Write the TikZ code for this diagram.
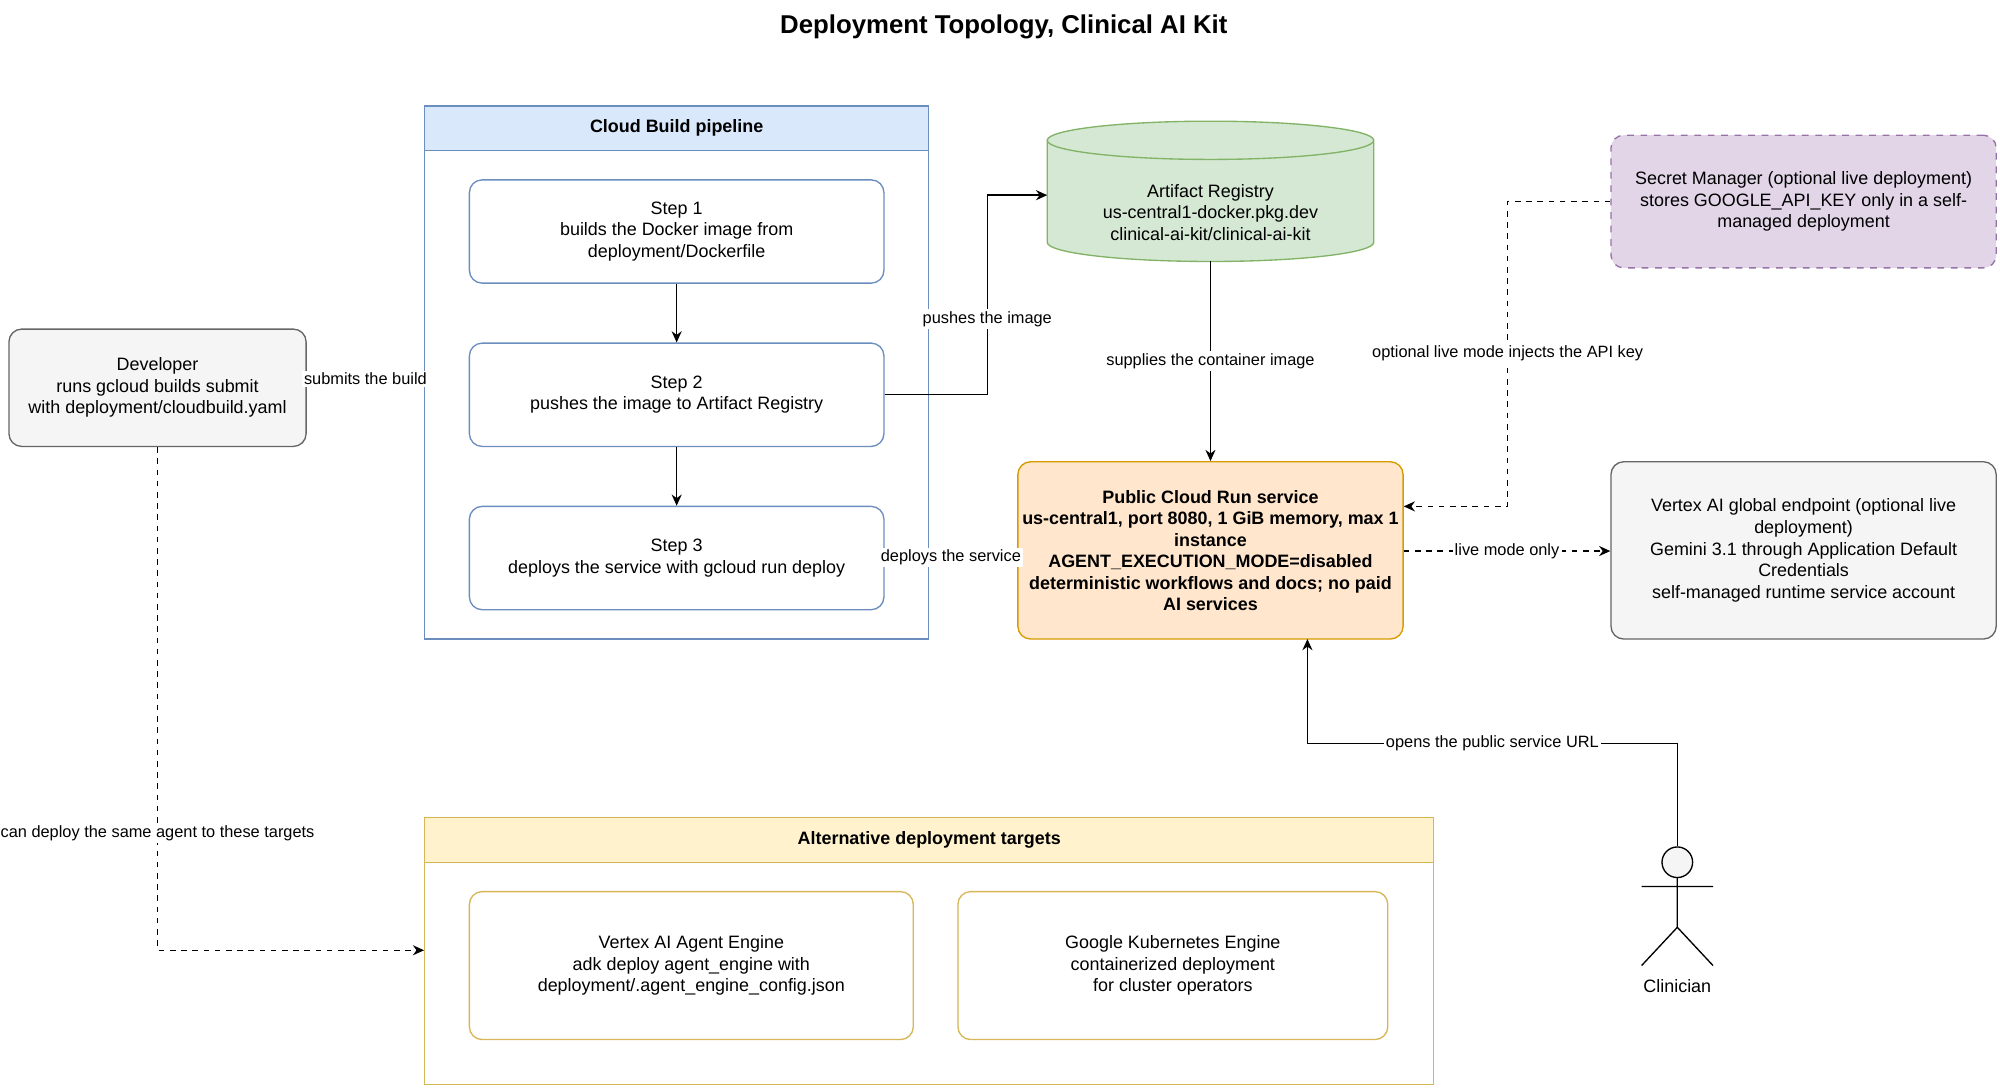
\documentclass[tikz,border=0pt]{standalone}
\usepackage{fontspec}
\setmainfont{Liberation Sans}
\usetikzlibrary{arrows.meta,positioning}
\definecolor{cbfill}{HTML}{DAE8FC}\definecolor{cbline}{HTML}{6C8EBF}
\definecolor{gfill}{HTML}{D5E8D4}\definecolor{gline}{HTML}{82B366}
\definecolor{ofill}{HTML}{FFE6CC}\definecolor{oline}{HTML}{D79B00}
\definecolor{pfill}{HTML}{E1D5E7}\definecolor{pline}{HTML}{9673A6}
\definecolor{yfill}{HTML}{FFF2CC}\definecolor{yline}{HTML}{D6B656}
\definecolor{grfill}{HTML}{F5F5F5}\definecolor{grline}{HTML}{666666}
\tikzset{
 txt/.style={font=\fontsize{8}{9.6}\selectfont,align=center},
 box/.style={txt,draw,rounded corners=0.2cm,line width=0.6pt,inner sep=1pt},
 cont/.style={draw,line width=0.6pt,inner sep=0},
 hdr/.style={draw,line width=0.6pt,font=\fontsize{8}{9.6}\selectfont\bfseries,inner sep=0},
 lbl/.style={font=\fontsize{7.3}{9}\selectfont,fill=white,inner sep=1pt},
 arr/.style={-{Stealth[length=5pt,width=4.5pt]},line width=0.6pt},
 dsh/.style={arr,dashed,dash pattern=on 2.5pt off 2.5pt}
}
\begin{document}
\begin{tikzpicture}
\useasboundingbox (0,0) rectangle (31.36,-17.06);
\node[font=\fontsize{11.5}{13}\selectfont\bfseries] (title) at (15.74,-0.42) {Deployment Topology, Clinical AI Kit};
% Cloud Build container
\node[cont,draw=cbline,minimum width=7.9cm,minimum height=8.36cm] (cb) at (10.61,-5.84) {};
\node[hdr,draw=cbline,fill=cbfill,minimum width=7.9cm,minimum height=0.7cm] (cbh) at (10.61,-2.01) {Cloud Build pipeline};
\node[box,draw=cbline,minimum width=6.5cm,minimum height=1.62cm] (s1) at (10.61,-3.63) {Step 1\\builds the Docker image from\\deployment/Dockerfile};
\node[box,draw=cbline,minimum width=6.5cm,minimum height=1.62cm] (s2) at (10.61,-6.19) {Step 2\\pushes the image to Artifact Registry};
\node[box,draw=cbline,minimum width=6.5cm,minimum height=1.62cm] (s3) at (10.61,-8.75) {Step 3\\deploys the service with gcloud run deploy};
% Developer
\node[box,draw=grline,fill=grfill,minimum width=4.66cm,minimum height=1.84cm] (dev) at (2.47,-6.08) {Developer\\runs gcloud builds submit\\with deployment/cloudbuild.yaml};
% Artifact registry cylinder
\fill[gfill] (16.42,-2.2) -- (16.42,-3.8) arc[start angle=180,end angle=360,x radius=2.56,y radius=0.3] -- (21.54,-2.2) arc[start angle=0,end angle=180,x radius=2.56,y radius=0.3];
\draw[gline,line width=0.6pt] (16.42,-2.2) -- (16.42,-3.8) arc[start angle=180,end angle=360,x radius=2.56,y radius=0.3] -- (21.54,-2.2);
\draw[gline,line width=0.6pt] (18.98,-2.2) ellipse[x radius=2.56,y radius=0.3];
\node[txt,minimum width=5.12cm,minimum height=2.2cm,inner sep=0] (ar) at (18.98,-3.0) {};
\node[txt] at (18.98,-3.33) {Artifact Registry\\us-central1-docker.pkg.dev\\clinical-ai-kit/clinical-ai-kit};
% Cloud Run
\node[box,draw=oline,fill=ofill,minimum width=6.04cm,minimum height=2.78cm,font=\fontsize{8}{9.6}\selectfont\bfseries] (cr) at (18.98,-8.63) {Public Cloud Run service\\us-central1, port 8080, 1 GiB memory, max 1\\instance\\AGENT\_EXECUTION\_MODE=disabled\\deterministic workflows and docs; no paid\\AI services};
% Secret Manager
\node[box,draw=pline,fill=pfill,dashed,minimum width=6.04cm,minimum height=2.08cm] (sm) at (28.28,-3.16) {Secret Manager (optional live deployment)\\stores GOOGLE\_API\_KEY only in a self-\\managed deployment};
% Vertex global
\node[box,draw=grline,fill=grfill,minimum width=6.04cm,minimum height=2.78cm] (vx) at (28.28,-8.63) {Vertex AI global endpoint (optional live\\deployment)\\Gemini 3.1 through Application Default\\Credentials\\self-managed runtime service account};
% Alternative targets
\node[cont,draw=yline,minimum width=15.82cm,minimum height=4.18cm] (alt) at (14.57,-14.91) {};
\node[hdr,draw=yline,fill=yfill,minimum width=15.82cm,minimum height=0.7cm] (alth) at (14.57,-13.17) {Alternative deployment targets};
\node[box,draw=yline,minimum width=6.96cm,minimum height=2.32cm] (ae) at (10.84,-15.14) {Vertex AI Agent Engine\\adk deploy agent\_engine with\\deployment/.agent\_engine\_config.json};
\node[box,draw=yline,minimum width=6.74cm,minimum height=2.32cm] (gke) at (18.39,-15.14) {Google Kubernetes Engine\\containerized deployment\\for cluster operators};
% Clinician
\node[draw,circle,minimum size=0.48cm,inner sep=0,fill=grfill,line width=0.6pt] (head) at (26.3,-13.52) {};
\coordinate (hip) at (26.3,-14.54);
\draw[line width=0.6pt] (head.south) -- (hip) (25.74,-13.9) -- (26.86,-13.9) (25.74,-15.14) -- (hip) -- (26.86,-15.14);
\node[txt] (cl) at (26.3,-15.46) {Clinician};
% edges
\draw[arr] (dev.east |- 0,-5.94) -- node[lbl,pos=0.5]{submits the build} (cb.west |- 0,-5.94);
\draw[arr] (s1) -- (s2);
\draw[arr] (s2) -- (s3);
\draw[arr] (s2.east) -- (15.48,-6.19) -- node[lbl,pos=0.38]{pushes the image} (15.48,-3.06) -- (16.42,-3.06);
\draw[arr] (18.98,-4.1) -- node[lbl]{supplies the container image} (cr.north);
\draw[arr] (s3.east |- 0,-8.74) -- node[lbl]{deploys the service} (cr.west |- 0,-8.74);
\draw[dsh] (sm.west) -| (23.64,-5.54) node[lbl]{optional live mode injects the API key} -- (23.64,-7.94) -- (cr.east |- 0,-7.94);
\draw[dsh] (cr.east |- 0,-8.64) -- node[lbl]{live mode only} (vx.west |- 0,-8.64);
\draw[arr] (head.north) |- (23.4,-11.66) node[lbl]{opens the public service URL} -- (20.5,-11.66) -- (20.5,-10.02);
\draw[dsh] (dev.south) -- (2.47,-13.06) node[lbl]{can deploy the same agent to these targets} |- (alt.west |- 0,-14.9);
\end{tikzpicture}
\end{document}
